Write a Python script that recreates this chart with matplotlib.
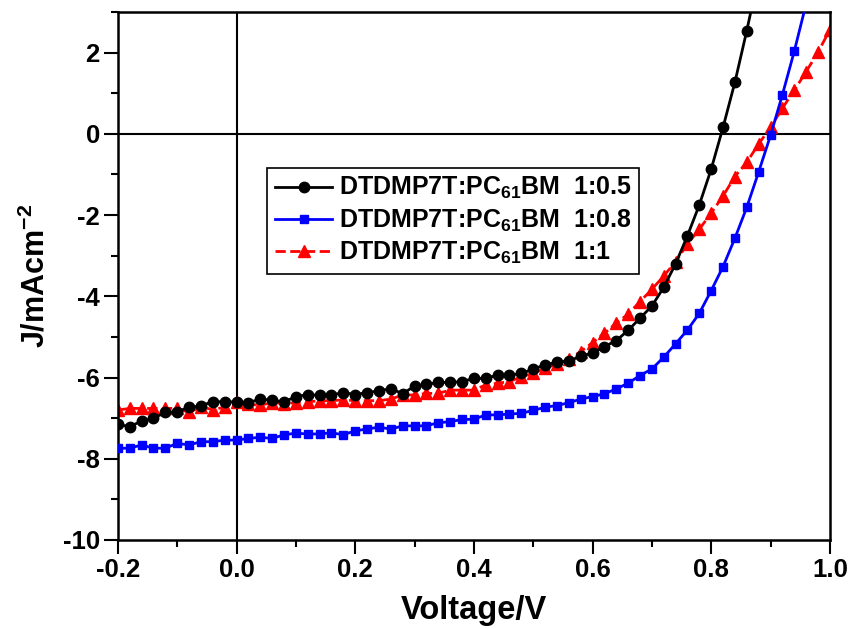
import matplotlib
matplotlib.use("Agg")
import matplotlib.pyplot as plt
from matplotlib.ticker import MultipleLocator

plt.rcParams['font.family'] = ['Liberation Sans', 'DejaVu Sans']
plt.rcParams['font.weight'] = 'bold'
plt.rcParams['mathtext.fontset'] = 'custom'
plt.rcParams['mathtext.rm'] = 'Liberation Sans:bold'
plt.rcParams['mathtext.bf'] = 'Liberation Sans:bold'
plt.rcParams['mathtext.default'] = 'bf'

# voltage grid (V), 0.02 V steps
voltage = [-0.20, -0.18, -0.16, -0.14, -0.12, -0.10, -0.08, -0.06, -0.04, -0.02,
           0.00, 0.02, 0.04, 0.06, 0.08, 0.10, 0.12, 0.14, 0.16, 0.18,
           0.20, 0.22, 0.24, 0.26, 0.28, 0.30, 0.32, 0.34, 0.36, 0.38,
           0.40, 0.42, 0.44, 0.46, 0.48, 0.50, 0.52, 0.54, 0.56, 0.58,
           0.60, 0.62, 0.64, 0.66, 0.68, 0.70, 0.72, 0.74, 0.76, 0.78,
           0.80, 0.82, 0.84, 0.86, 0.88, 0.90, 0.92, 0.94, 0.96, 0.98, 1.00]

# current density (mA/cm^2)
j_05 = [-7.15, -7.21, -7.07, -7.00, -6.86, -6.84, -6.73, -6.70, -6.59, -6.60,
        -6.60, -6.62, -6.53, -6.56, -6.60, -6.47, -6.42, -6.44, -6.43, -6.37,
        -6.42, -6.37, -6.33, -6.27, -6.40, -6.21, -6.17, -6.12, -6.12, -6.10,
        -6.02, -6.02, -5.94, -5.94, -5.90, -5.79, -5.69, -5.62, -5.60, -5.47,
        -5.40, -5.24, -5.09, -4.84, -4.54, -4.24, -3.78, -3.20, -2.51, -1.75,
        -0.87, 0.16, 1.27, 2.54, 3.90]

j_08 = [-7.74, -7.74, -7.66, -7.74, -7.74, -7.62, -7.66, -7.58, -7.58, -7.54,
        -7.54, -7.50, -7.47, -7.50, -7.41, -7.37, -7.39, -7.39, -7.36, -7.41,
        -7.31, -7.27, -7.22, -7.27, -7.19, -7.19, -7.19, -7.11, -7.09, -7.03,
        -7.03, -6.92, -6.92, -6.90, -6.88, -6.81, -6.73, -6.69, -6.62, -6.53,
        -6.47, -6.40, -6.28, -6.14, -5.95, -5.79, -5.50, -5.17, -4.83, -4.42,
        -3.86, -3.27, -2.57, -1.81, -0.94, -0.04, 0.96, 2.03, 3.20]

j_10 = [-6.80, -6.76, -6.76, -6.76, -6.76, -6.76, -6.86, -6.72, -6.79, -6.73,
        -6.61, -6.66, -6.68, -6.62, -6.64, -6.62, -6.60, -6.57, -6.57, -6.55,
        -6.57, -6.57, -6.57, -6.53, -6.43, -6.43, -6.39, -6.39, -6.31, -6.31,
        -6.31, -6.18, -6.14, -6.10, -5.98, -5.90, -5.77, -5.67, -5.55, -5.36,
        -5.14, -4.91, -4.66, -4.44, -4.13, -3.83, -3.50, -3.15, -2.71, -2.35,
        -1.95, -1.53, -1.05, -0.70, -0.25, 0.16, 0.63, 1.07, 1.53, 2.01, 2.56]

labels = [r'DTDMP7T:PC$_{61}$BM  1:0.5',
          r'DTDMP7T:PC$_{61}$BM  1:0.8',
          r'DTDMP7T:PC$_{61}$BM  1:1']

fig = plt.figure(figsize=(8.54, 6.29), dpi=100)
ax = fig.add_axes([0.138, 0.1415, 0.8337, 0.8394])

# reference lines through origin
ax.axhline(0, color='black', lw=1.5, zorder=1)
ax.axvline(0, color='black', lw=1.5, zorder=1)

ax.plot(voltage[:len(j_05)], j_05, color='black', ls='-', lw=2,
        marker='o', ms=7.5, label=labels[0], zorder=3)
ax.plot(voltage[:len(j_08)], j_08, color='#0000ff', ls='-', lw=2,
        marker='s', ms=6, label=labels[1], zorder=3)
ax.plot(voltage[:len(j_10)], j_10, color='#ff0000', ls='--', lw=2,
        marker='^', ms=8.5, label=labels[2], zorder=2)

ax.set_xlim(-0.2, 1.0)
ax.set_ylim(-10, 3)
ax.set_xticks([-0.2, 0.0, 0.2, 0.4, 0.6, 0.8, 1.0])
ax.set_xticklabels(['-0.2', '0.0', '0.2', '0.4', '0.6', '0.8', '1.0'])
ax.set_yticks([-10, -8, -6, -4, -2, 0, 2])
ax.set_yticklabels(['-10', '-8', '-6', '-4', '-2', '0', '2'])
ax.xaxis.set_minor_locator(MultipleLocator(0.1))
ax.yaxis.set_minor_locator(MultipleLocator(1))

ax.tick_params(which='major', direction='out', length=10, width=1.5,
               labelsize=18.5, pad=3, top=False, right=False)
ax.tick_params(which='minor', direction='out', length=5, width=1.5,
               top=False, right=False)
for sp in ax.spines.values():
    sp.set_linewidth(1.8)

ax.set_xlabel('Voltage/V', fontsize=23.5, fontweight='bold', labelpad=9)
ax.set_ylabel(r'J/mAcm$^{-2}$', fontsize=22, fontweight='bold', labelpad=8)

leg = ax.legend(loc='upper left', bbox_to_anchor=(0.21, 0.705),
                borderaxespad=0, fontsize=18, handlelength=2.3,
                labelspacing=0.25, fancybox=False, framealpha=1,
                edgecolor='black', handletextpad=0.28, borderpad=0.3)
leg.get_frame().set_linewidth(1.2)

fig.savefig('out.png', dpi=100)
